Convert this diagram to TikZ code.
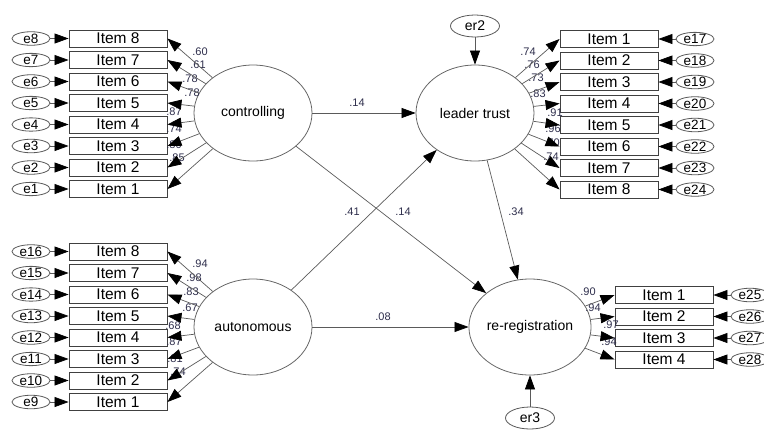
\documentclass[tikz,border=0pt]{standalone}
\usepackage{fontspec}
\setmainfont{Liberation Sans}
\usetikzlibrary{shapes.geometric,arrows.meta}
\definecolor{loadcol}{RGB}{45,45,75}
\definecolor{linecol}{RGB}{90,90,90}
\tikzset{
  item/.style={draw=black!75,line width=0.9pt,minimum width=98pt,minimum height=17pt,inner sep=0pt,font=\fontsize{15.5}{15.5}\selectfont},
  err/.style={draw=black!65,line width=0.8pt,ellipse,minimum width=38pt,minimum height=13pt,inner sep=0pt,font=\fontsize{13.5}{13.5}\selectfont},
  latent/.style={draw=black!60,line width=0.8pt,ellipse,minimum width=118pt,minimum height=96pt,inner sep=0pt,font=\fontsize{14}{14}\selectfont},
  arr/.style={draw=linecol,line width=0.7pt,-{Triangle[length=14pt,width=10pt,color=black]}},
  ld/.style={text=loadcol,inner sep=0pt,font=\fontsize{11}{11}\selectfont}
}
\begin{document}
\begin{tikzpicture}[x=1pt,y=-1pt]
    \useasboundingbox (0,0) rectangle (764,432);

    \foreach \k in {1,...,8}{
        \pgfmathtruncatemacro\m{\k+8}
        \pgfmathtruncatemacro\n{\k+16}
        \node [item](c\k)at(118,{189-(\k-1)*21.5}){Item \k};
        \node [err](e\k)at(31,{189-(\k-1)*21.5}){e\k};
        \node [item](a\k)at(118,{402-(\k-1)*21.5}){Item \k};
        \node [err](e\m)at(31,{402-(\k-1)*21.5}){e\m};
        \node [item](t\k)at(609,{39+(\k-1)*21.5}){Item \k};
        \node [err](e\n)at(695,{39+(\k-1)*21.5}){e\n};
    }
    \foreach \k in {1,...,4}{
        \pgfmathtruncatemacro\m{\k+24}
        \node [item](r\k)at(664,{295+(\k-1)*21.5}){Item \k};
        \node [err](e\m)at(750,{295+(\k-1)*21.5}){e\m};
    }

    \node [latent](ctrl)at(253,113){controlling};
    \node [latent](auto)at(253,327){autonomous};
    \node [latent](trust)at(475,113){leader trust};
    \node [latent,minimum width=114pt](rereg)at(530,327){re-registration};
    \node [err,minimum width=49pt,minimum height=22pt,font=\fontsize{14}{14}\selectfont](er2)at(475,26){er2};
    \node [err,minimum width=49pt,minimum height=22pt,font=\fontsize{14}{14}\selectfont](er3)at(530,418){er3};

    \foreach \t/\x/\y [count=\i] in {.60/200/52,.61/198/65,.78/190/79,.78/192/93,.87/174/112,.74/174/129,.80/174/145,.85/177/158}
        \node [ld](lc\i)at(\x,\y){\t};
    \foreach \t/\x/\y [count=\i] in {.94/200/264,.98/194/278,.83/191/292,.67/190/308,.68/173/326,.87/174/342,.81/175/359,.74/178/372}
        \node [ld](la\i)at(\x,\y){\t};
    \foreach \t/\x/\y [count=\i] in {.74/528/52,.76/532/65,.73/536/78,.83/538/94,.91/555/113,.96/553/129,.70/552/143,.74/551/157}
        \node [ld](lt\i)at(\x,\y){\t};
    \foreach \t/\x/\y [count=\i] in {.90/588/292,.94/593/308,.97/611/325,.94/609/342}
        \node [ld](lr\i)at(\x,\y){\t};

    \node [ld](p1)at(357,103){.14};
    \node [ld](p2)at(403,212){.14};
    \node [ld](p3)at(352,212){.41};
    \node [ld](p4)at(383,317){.08};
    \node [ld](p5)at(516,212){.34};

    \foreach \k in {1,...,8}{
        \pgfmathtruncatemacro\m{\k+8}
        \pgfmathtruncatemacro\n{\k+16}
        \draw [arr] (ctrl) -- (c\k.east);
        \draw [arr] (e\k) -- (c\k);
        \draw [arr] (auto) -- (a\k.east);
        \draw [arr] (e\m) -- (a\k);
        \draw [arr] (trust) -- (t\k.west);
        \draw [arr] (e\n) -- (t\k);
    }
    \foreach \k in {1,...,4}{
        \pgfmathtruncatemacro\m{\k+24}
        \draw [arr] (rereg) -- (r\k.west);
        \draw [arr] (e\m) -- (r\k);
    }

    \draw [arr] (ctrl) -- (trust);
    \draw [arr] (ctrl) -- (rereg);
    \draw [arr] (auto) -- (trust);
    \draw [arr] (auto) -- (rereg);
    \draw [arr] (trust) -- (rereg);
    \draw [arr] (er2) -- (trust);
    \draw [arr] (er3) -- (rereg);
\end{tikzpicture}
\end{document}
